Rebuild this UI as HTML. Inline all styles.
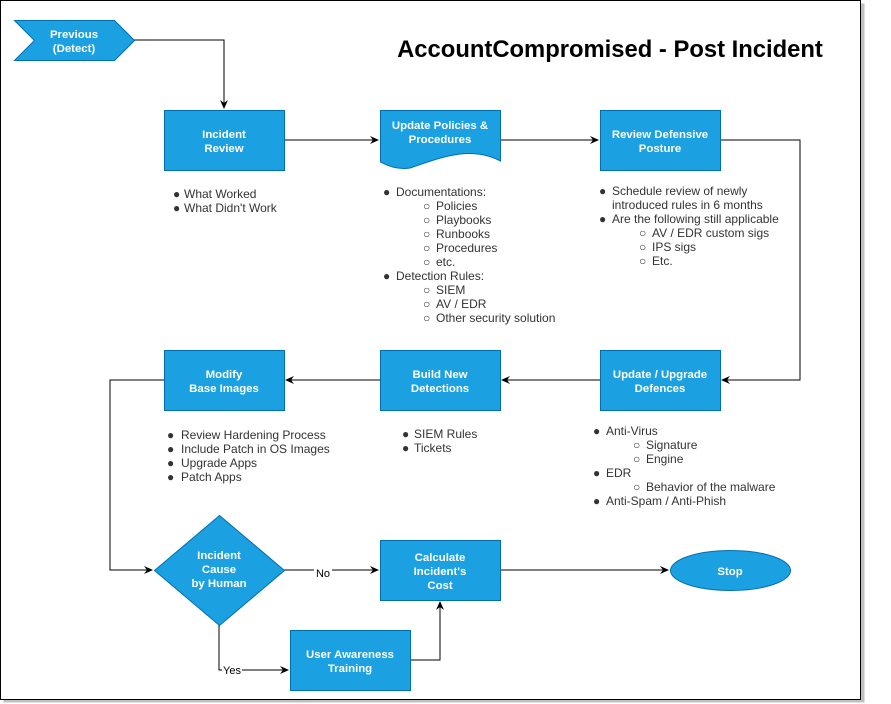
<!DOCTYPE html>
<html><head><meta charset="utf-8"><style>
html,body{margin:0;padding:0;background:#fff;}
svg{display:block;font-family:"Liberation Sans",Arial,sans-serif;}
.n{fill:#1ba1e2;stroke:#006eaf;stroke-width:1;}
.t{fill:#fff;font-weight:bold;font-size:11.4px;text-anchor:middle;}
.l{fill:#333;font-size:12px;}
.c{fill:none;stroke:#000;stroke-width:1;}
</style></head><body>
<svg width="891" height="704" viewBox="0 0 891 704">
<defs><marker id="a" markerWidth="10" markerHeight="10" refX="8" refY="5" orient="auto" markerUnits="userSpaceOnUse"><path d="M0,1 L9,5 L0,9 L3,5 Z" fill="#000"/></marker></defs>
<rect x="3.5" y="3.5" width="861" height="699" fill="#c0c0c0"/>
<rect x="0.5" y="0.5" width="860" height="699" fill="#fff" stroke="#000"/>
<text x="610" y="57" font-size="23.8" font-weight="bold" text-anchor="middle" fill="#000">AccountCompromised - Post Incident</text>

<path class="c" d="M134,40 H224 V108" marker-end="url(#a)"/>
<path class="c" d="M284,140 H378" marker-end="url(#a)"/>
<path class="c" d="M500,140 H598" marker-end="url(#a)"/>
<path class="c" d="M720,140 H800 V380 H722" marker-end="url(#a)"/>
<path class="c" d="M600,380 H502" marker-end="url(#a)"/>
<path class="c" d="M380,380 H286" marker-end="url(#a)"/>
<path class="c" d="M164,380 H110 V570 H152" marker-end="url(#a)"/>
<path class="c" d="M284,570 H378" marker-end="url(#a)"/>
<path class="c" d="M219,625 V670 H288" marker-end="url(#a)"/>
<path class="c" d="M410,660 H440 V602" marker-end="url(#a)"/>
<path class="c" d="M500,570 H668" marker-end="url(#a)"/>
<rect x="314" y="566" width="18" height="13" fill="#fff"/>
<text x="323" y="577" font-size="11" text-anchor="middle" fill="#000">No</text>
<rect x="222" y="664" width="20" height="13" fill="#fff"/>
<text x="232" y="674" font-size="11" text-anchor="middle" fill="#000">Yes</text>

<path class="n" d="M14.5,20.5 H114.5 L134.5,40.5 L114.5,60.5 H14.5 L34.5,40.5 Z"/>
<text class="t" x="74" y="38">Previous</text><text class="t" x="74" y="52">(Detect)</text>

<rect class="n" x="164.5" y="110.5" width="120" height="60"/>
<text class="t" x="224" y="138">Incident</text><text class="t" x="224" y="152">Review</text>

<path class="n" d="M380.5,110.5 H500.5 V161 C470,145 440,158 410,168 C398,170 388,166 380.5,162 Z"/>
<text class="t" x="440" y="129">Update Policies &amp;</text><text class="t" x="440" y="143">Procedures</text>

<rect class="n" x="600.5" y="110.5" width="120" height="60"/>
<text class="t" x="660" y="138">Review Defensive</text><text class="t" x="660" y="152">Posture</text>

<rect class="n" x="164.5" y="350.5" width="120" height="60"/>
<text class="t" x="224" y="378">Modify</text><text class="t" x="224" y="392">Base Images</text>

<rect class="n" x="380.5" y="350.5" width="120" height="60"/>
<text class="t" x="440" y="378">Build New</text><text class="t" x="440" y="392">Detections</text>

<rect class="n" x="600.5" y="350.5" width="120" height="60"/>
<text class="t" x="660" y="378">Update / Upgrade</text><text class="t" x="660" y="392">Defences</text>

<path class="n" d="M219.5,515.5 L284.5,570.5 L219.5,625.5 L154.5,570.5 Z"/>
<text class="t" x="219" y="559">Incident</text><text class="t" x="219" y="573">Cause</text><text class="t" x="219" y="587">by Human</text>

<rect class="n" x="380.5" y="540.5" width="120" height="60"/>
<text class="t" x="440" y="561">Calculate</text><text class="t" x="440" y="575">Incident's</text><text class="t" x="440" y="589">Cost</text>

<ellipse class="n" cx="730.5" cy="570.5" rx="60" ry="20"/>
<text class="t" x="730" y="575">Stop</text>

<rect class="n" x="290.5" y="630.5" width="120" height="60"/>
<text class="t" x="350" y="658">User Awareness</text><text class="t" x="350" y="672">Training</text>

<g class="l">
<text x="173" y="198">●</text><text x="184" y="198">What Worked</text>
<text x="173" y="212">●</text><text x="184" y="212">What Didn't Work</text>
<text x="383" y="196">●</text><text x="396" y="196">Documentations:</text>
<text x="423" y="210">○</text><text x="436" y="210">Policies</text>
<text x="423" y="224">○</text><text x="436" y="224">Playbooks</text>
<text x="423" y="238">○</text><text x="436" y="238">Runbooks</text>
<text x="423" y="252">○</text><text x="436" y="252">Procedures</text>
<text x="423" y="266">○</text><text x="436" y="266">etc.</text>
<text x="383" y="280">●</text><text x="396" y="280">Detection Rules:</text>
<text x="423" y="294">○</text><text x="436" y="294">SIEM</text>
<text x="423" y="308">○</text><text x="436" y="308">AV / EDR</text>
<text x="423" y="322">○</text><text x="436" y="322">Other security solution</text>
<text x="599" y="195">●</text><text x="612" y="195">Schedule review of newly</text>
<text x="612" y="209">introduced rules in 6 months</text>
<text x="599" y="223">●</text><text x="612" y="223">Are the following still applicable</text>
<text x="639" y="237">○</text><text x="652" y="237">AV / EDR custom sigs</text>
<text x="639" y="251">○</text><text x="652" y="251">IPS sigs</text>
<text x="639" y="265">○</text><text x="652" y="265">Etc.</text>
<text x="167" y="439">●</text><text x="181" y="439">Review Hardening Process</text>
<text x="167" y="453">●</text><text x="181" y="453">Include Patch in OS Images</text>
<text x="167" y="467">●</text><text x="181" y="467">Upgrade Apps</text>
<text x="167" y="481">●</text><text x="181" y="481">Patch Apps</text>
<text x="402" y="438">●</text><text x="414" y="438">SIEM Rules</text>
<text x="402" y="452">●</text><text x="414" y="452">Tickets</text>
<text x="593" y="435">●</text><text x="606" y="435">Anti-Virus</text>
<text x="633" y="449">○</text><text x="646" y="449">Signature</text>
<text x="633" y="463">○</text><text x="646" y="463">Engine</text>
<text x="593" y="477">●</text><text x="606" y="477">EDR</text>
<text x="633" y="491">○</text><text x="646" y="491">Behavior of the malware</text>
<text x="593" y="505">●</text><text x="606" y="505">Anti-Spam / Anti-Phish</text>
</g>
</svg>
</body></html>
